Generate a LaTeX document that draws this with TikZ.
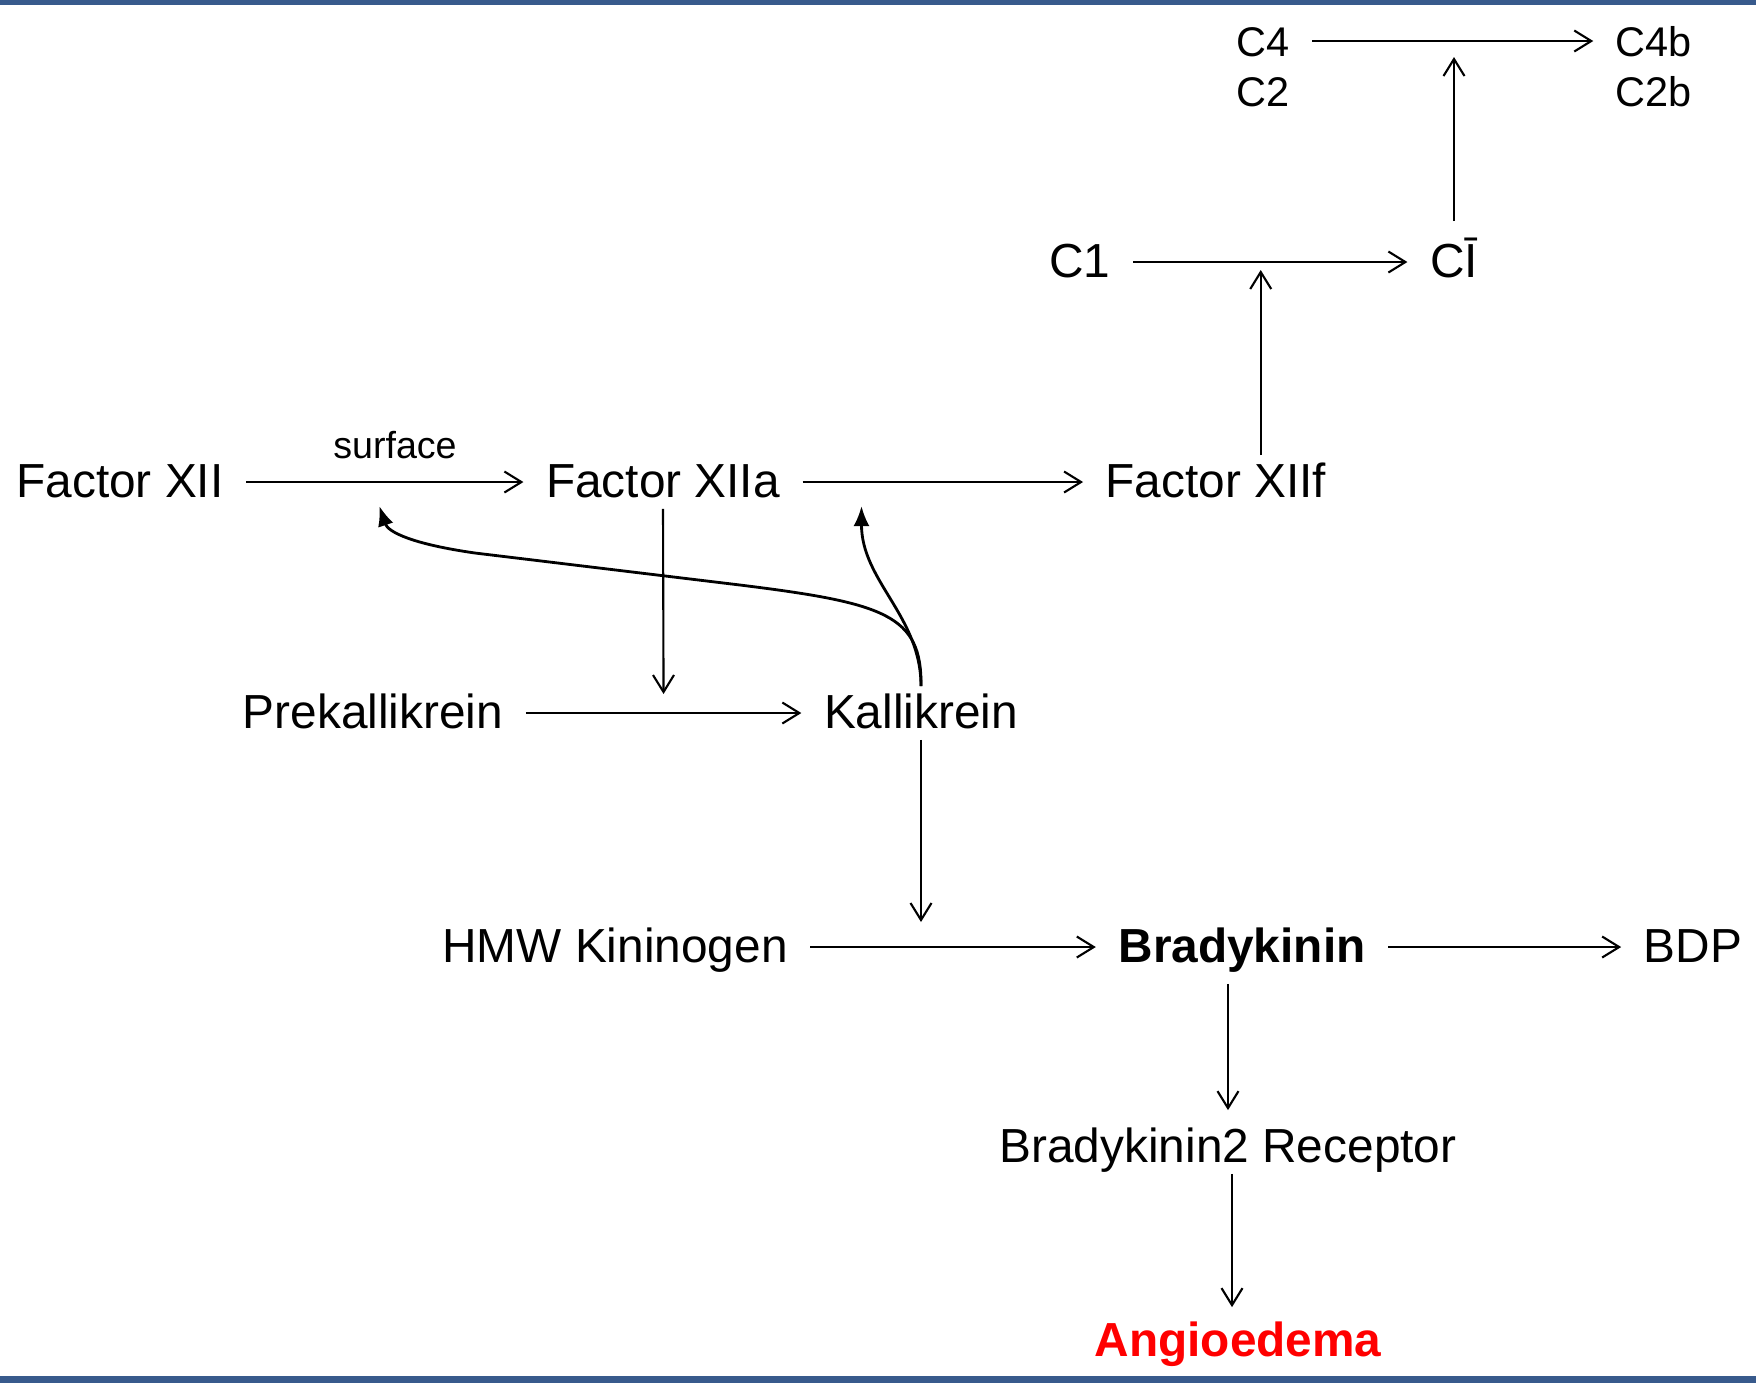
\documentclass[tikz,border=0pt]{standalone}
\usepackage{fontspec}
\setmainfont{Liberation Sans}
\usetikzlibrary{arrows.meta, calc}
\definecolor{barBlue}{RGB}{56, 90, 140}
\definecolor{angioRed}{RGB}{255, 0, 0}
\tikzset{
  molbox/.style={
    inner xsep=2.2mm, inner ysep=0.37mm,
    text height=1.08em, text depth=0.2em,
    font=\fontsize{13.6}{16}\selectfont,
  },
  smallmol/.style={
    molbox, font=\fontsize{11.8}{14}\selectfont,
  },
  flow/.style={
    -{Straight Barb[length=1.7mm, width=2.1mm]}, line width=0.6pt,
  },
  feedback/.style={
    -{Latex[length=2mm, width=1.6mm]}, line width=0.8pt,
  },
}

\begin{document}
\begin{tikzpicture}[x=0.1mm, y=0.1mm]

\useasboundingbox (0,0) rectangle (1756,-1383);

% =========================================================================
% slide bars
% =========================================================================
\fill[barBlue] (0,0) rectangle (1756,-5);
\fill[barBlue] (0,-1376) rectangle (1756,-1383);

% =========================================================================
% contact activation row
% =========================================================================
\node[molbox] (fxii)  at (120,-482)  {Factor XII};
\node[molbox] (fxiia) at (663,-482)  {Factor XIIa};
\node[molbox] (fxiif) at (1216,-482) {Factor XIIf};
\node[font=\fontsize{10.7}{13}\selectfont] (surf) at (395,-445) {surface};

% complement
\node[molbox] (c1)   at (1080,-262) {C1};
\node[molbox] (cbar) at (1454,-262) {CĪ};
\node[smallmol] (c4)  at (1263,-41)  {C4};
\node[smallmol] (c2)  at (1263,-91)  {C2};
\node[smallmol] (c4b) at (1654,-41)  {C4b};
\node[smallmol] (c2b) at (1654,-91)  {C2b};

% kallikrein / kinin
\node[molbox] (prek)  at (373,-713)  {Prekallikrein};
\node[molbox] (kal)   at (921,-713)  {Kallikrein};
\node[molbox] (hmw)   at (615,-947)  {HMW Kininogen};
\node[molbox, font=\fontsize{13.6}{16}\selectfont\bfseries] (brady) at (1242,-947) {Bradykinin};
\node[molbox] (bdp)   at (1693,-947) {BDP};
\node[molbox] (btwo)  at (1228,-1147) {Bradykinin2 Receptor};
\node[molbox, font=\fontsize{13.6}{16}\selectfont\bfseries, text=angioRed] (angio) at (1238,-1341) {Angioedema};

% =========================================================================
% arrows
% =========================================================================
\foreach \a/\b in {fxii/fxiia, fxiia/fxiif, c1/cbar, c4/c4b, prek/kal, hmw/brady, brady/bdp}{
  \draw[flow] (\a.east) -- (\b.west);
}

\coordinate (prekMid) at ($(prek.east)!0.5!(kal.west)$);
\coordinate (c1Mid)   at ($(c1.east)!0.465!(cbar.west)$);
\coordinate (xiiMid)  at ($(fxii.east)!0.48!(fxiia.west)$);
\coordinate (xiiaMid) at ($(fxiia.east)!0.21!(fxiif.west)$);

\draw[flow, shorten >=1.9mm] (fxiia.south) -- (prekMid);
\draw[flow, shorten >=2.5mm] (kal.south) -- (kal.south |- hmw.east);
\draw[flow, shorten >=0.8mm] (c1Mid |- fxiif.north) -- (c1Mid);
\draw[flow, shorten >=1.6mm] ([yshift=1.4mm]cbar.north) -- (cbar.north |- c4.east);
\draw[flow, shorten <=1mm, shorten >=1mm] (btwo.north |- brady.south) -- (btwo.north);
\draw[flow, shorten >=0.7mm] ([xshift=0.4mm]btwo.south) -- ([xshift=0.4mm]btwo.south |- angio.north);

% kallikrein feedback
\draw[feedback] (kal.north) .. controls (922,-615) and (885,-603) .. (740,-585)
  -- (475,-553) .. controls (412,-544) and (388,-532) .. ([yshift=-2.4mm]xiiMid);
\draw[feedback] (kal.north) .. controls +(0,70) and +(0,-75) .. ([yshift=-2.4mm]xiiaMid);

\end{tikzpicture}
\end{document}
